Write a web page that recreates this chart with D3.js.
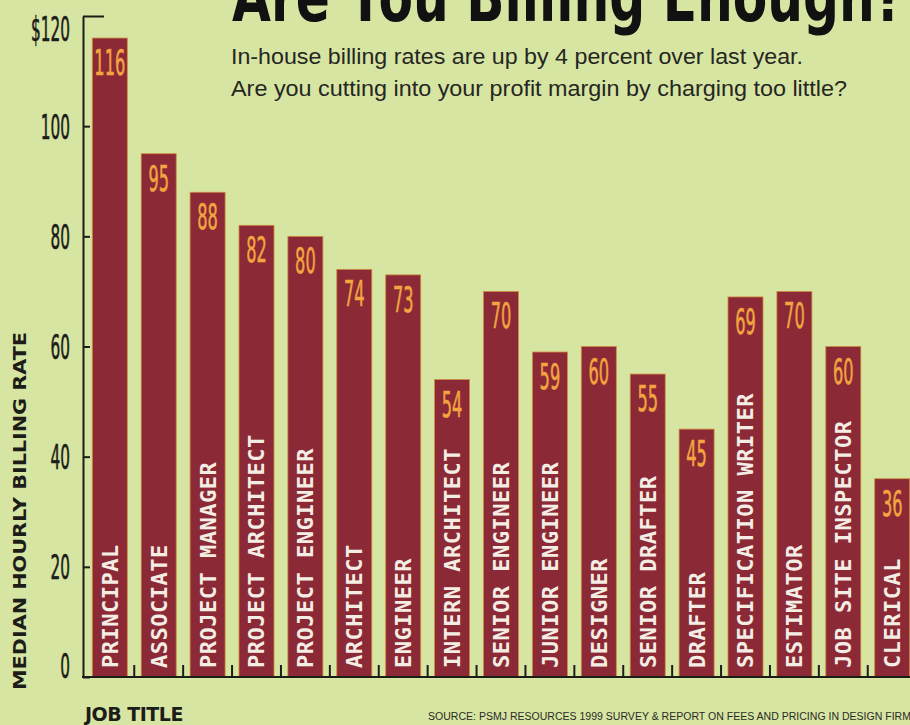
<!DOCTYPE html>
<html>
<head>
<meta charset="utf-8">
<script src="https://d3js.org/d3.v7.min.js"></script>
<style>
  body { margin: 0; background: #d6e4a2; }
  svg { display: block; }
</style>
</head>
<body>
<div id="chart"></div>
<script>
const categories = ["PRINCIPAL", "ASSOCIATE", "PROJECT MANAGER", "PROJECT ARCHITECT", "PROJECT ENGINEER",
  "ARCHITECT", "ENGINEER", "INTERN ARCHITECT", "SENIOR ENGINEER", "JUNIOR ENGINEER", "DESIGNER",
  "SENIOR DRAFTER", "DRAFTER", "SPECIFICATION WRITER", "ESTIMATOR", "JOB SITE INSPECTOR", "CLERICAL"];
const rates = [116, 95, 88, 82, 80, 74, 73, 54, 70, 59, 60, 55, 45, 69, 70, 60, 36];
const yTicks = [0, 20, 40, 60, 80, 100, 120];

const data = categories.map((c, i) => ({name: c, value: rates[i]}));

const W = 910, H = 725;
const bg = '#d7e5a3', barFill = '#8b2a36', barEdge = '#d38a3c', numColor = '#f2a540', ink = '#1c1c18';
const narrow = '"Liberation Sans Narrow", "DejaVu Sans Condensed", "Arial Narrow", sans-serif';
const digitScale = 2.0;

let svg = d3.select('#chart').append('svg')
  .attr('width', W).attr('height', H);

svg.append('rect').attr('width', W).attr('height', H).attr('fill', bg);

let x = d3.scaleBand()
  .domain(categories)
  .range([83, 919])
  .paddingInner(0.284)
  .paddingOuter(0.19);

let y = d3.scaleLinear()
  .domain([0, 120])
  .range([677, 16]);

// title + subtitle (title runs off the top edge, as in the print)
svg.append('text')
  .attr('x', 232).attr('y', 21)
  .attr('font-family', narrow).attr('font-weight', 'bold').attr('font-size', 70)
  .attr('textLength', 672).attr('lengthAdjust', 'spacingAndGlyphs')
  .attr('fill', '#111')
  .text('Are You Billing Enough?');

const subLines = ['In-house billing rates are up by 4 percent over last year.',
                  'Are you cutting into your profit margin by charging too little?'];
const subWidths = [572, 616];
svg.append('g')
  .attr('font-family', '"Liberation Sans", Arial, sans-serif')
  .attr('font-size', 21.5).attr('fill', '#262622')
  .selectAll('text')
  .data(subLines)
  .join('text')
  .attr('x', 231)
  .attr('y', (d, i) => 64 + i * 32)
  .attr('textLength', (d, i) => subWidths[i])
  .attr('lengthAdjust', 'spacingAndGlyphs')
  .text(d => d);

// bars
svg.append('g').selectAll('rect')
  .data(data)
  .join('rect')
  .attr('x', d => x(d.name))
  .attr('y', d => y(d.value))
  .attr('width', x.bandwidth())
  .attr('height', d => y(0) - y(d.value))
  .attr('fill', barFill)
  .attr('stroke', barEdge)
  .attr('stroke-width', 0.8);

// value labels, tall condensed digits
svg.append('g').selectAll('g')
  .data(data)
  .join('g')
  .attr('transform', d => `translate(${x(d.name) + x.bandwidth() / 2},${y(d.value) + 37}) scale(1,${digitScale})`)
  .append('text')
  .attr('text-anchor', 'middle')
  .attr('font-family', narrow).attr('font-size', 18)
  .attr('fill', numColor)
  .attr('stroke', numColor).attr('stroke-width', 0.3)
  .text(d => d.value);

// category names inside bars
svg.append('g').selectAll('text')
  .data(data)
  .join('text')
  .attr('transform', d => `translate(${x(d.name) + x.bandwidth() / 2},668) rotate(-90)`)
  .attr('dy', '0.36em')
  .attr('font-family', '"DejaVu Sans Mono", monospace').attr('font-weight', 'bold')
  .attr('font-size', 22).attr('letter-spacing', 0.5)
  .attr('fill', '#f4ede4')
  .text(d => d.name);

// y axis
let axisY = d3.axisLeft(y)
  .tickValues(yTicks)
  .tickSize(-7)
  .tickSizeOuter(0)
  .tickPadding(13)
  .tickFormat(d => d === 120 ? '$120' : d);

let gy = svg.append('g')
  .attr('transform', 'translate(83,0)')
  .call(axisY);
gy.select('.domain').attr('stroke', ink).attr('stroke-width', 2);
gy.selectAll('.tick line').attr('stroke', ink).attr('stroke-width', 2);
gy.selectAll('.tick')
  .filter(d => d === 120)
  .select('line').attr('x2', 21);
gy.selectAll('.tick text')
  .attr('font-family', narrow).attr('font-size', 17)
  .attr('fill', ink)
  .attr('stroke', ink).attr('stroke-width', 0.3)
  .attr('dy', null)
  .attr('y', d => d === 0 ? 0 : d === 120 ? 24 / digitScale : 12 / digitScale)
  .attr('transform', `scale(1,${digitScale})`);

// x baseline + ticks between bars
svg.append('line')
  .attr('x1', 82).attr('x2', W)
  .attr('y1', y(0)).attr('y2', y(0))
  .attr('stroke', ink).attr('stroke-width', 2);

const gap = x.step() - x.bandwidth();
svg.append('g').selectAll('line')
  .data(categories.slice(0, -1))
  .join('line')
  .attr('x1', d => x(d) + x.bandwidth() + gap / 2)
  .attr('x2', d => x(d) + x.bandwidth() + gap / 2)
  .attr('y1', y(0)).attr('y2', y(0) - 12)
  .attr('stroke', ink).attr('stroke-width', 2);

// axis titles
svg.append('text')
  .attr('transform', 'translate(26,690) rotate(-90)')
  .attr('font-family', '"DejaVu Sans", sans-serif').attr('font-weight', 'bold')
  .attr('font-size', 17)
  .attr('textLength', 358).attr('lengthAdjust', 'spacingAndGlyphs')
  .attr('fill', ink)
  .text('MEDIAN HOURLY BILLING RATE');

svg.append('text')
  .attr('x', 85).attr('y', 721)
  .attr('font-family', '"DejaVu Sans", sans-serif').attr('font-weight', 'bold')
  .attr('font-size', 19).attr('letter-spacing', -0.5)
  .attr('fill', ink)
  .text('JOB TITLE');

svg.append('text')
  .attr('x', 428).attr('y', 720)
  .attr('font-family', '"Liberation Sans", Arial, sans-serif')
  .attr('font-size', 10)
  .attr('textLength', 490).attr('lengthAdjust', 'spacingAndGlyphs')
  .attr('fill', '#2a2a26')
  .text('SOURCE: PSMJ RESOURCES 1999 SURVEY & REPORT ON FEES AND PRICING IN DESIGN FIRMS');
</script>
</body>
</html>
